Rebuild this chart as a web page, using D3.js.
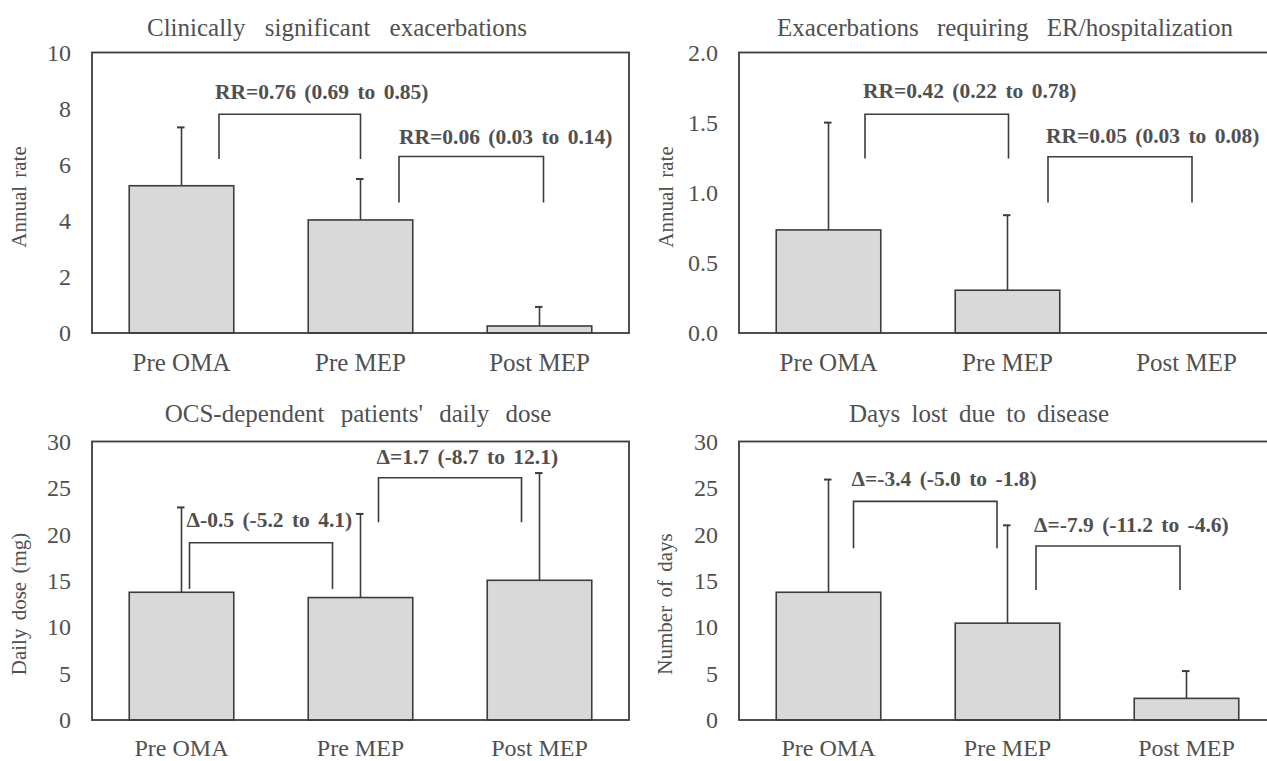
<!DOCTYPE html>
<html>
<head>
<meta charset="utf-8">
<script src="https://cdn.jsdelivr.net/npm/d3@7/dist/d3.min.js"></script>
<style>
  html, body { margin: 0; padding: 0; background: #fff; }
  svg { display: block; }
  text { font-family: "Liberation Serif", "Times New Roman", serif; }
</style>
</head>
<body>
<svg id="chart" width="1267" height="761"></svg>
<script>
// ---------------- DATA ----------------
const categories = ["Pre OMA", "Pre MEP", "Post MEP"];

const panelTitles = [
  "Clinically significant exacerbations",
  "Exacerbations requiring ER/hospitalization",
  "OCS-dependent patients' daily dose",
  "Days lost due to disease"
];
const yAxisTitles = ["Annual rate", "Annual rate", "Daily dose (mg)", "Number of days"];

// bar means
const meansClinical = [5.25, 4.03, 0.25];
const meansER       = [0.735, 0.305, 0];
const meansOCS      = [13.76, 13.19, 15.05];
const meansDays     = [13.76, 10.43, 2.33];

// upper end of error bars
const upperClinical = [7.33, 5.49, 0.93];
const upperER       = [1.50, 0.84, null];
const upperOCS      = [22.9, 22.2, 26.6];
const upperDays     = [25.9, 20.97, 5.27];

// tick labels
const ticksClinical = [0, 2, 4, 6, 8, 10];
const ticksER       = [0, 0.5, 1.0, 1.5, 2.0];
const ticksOCS      = [0, 5, 10, 15, 20, 25, 30];
const ticksDays     = [0, 5, 10, 15, 20, 25, 30];

// comparison labels
const labelsClinical = ["RR=0.76 (0.69 to 0.85)", "RR=0.06 (0.03 to 0.14)"];
const labelsER       = ["RR=0.42 (0.22 to 0.78)", "RR=0.05 (0.03 to 0.08)"];
const labelsOCS      = ["\u0394-0.5 (-5.2 to 4.1)", "\u0394=1.7 (-8.7 to 12.1)"];
const labelsDays     = ["\u0394=-3.4 (-5.0 to -1.8)", "\u0394=-7.9 (-11.2 to -4.6)"];

// bracket levels (data units): [top, leg end, label centre]
const levelsClinical = [[7.8, 6.2, 8.6], [6.29, 4.65, 7.0]];
const levelsER       = [[1.56, 1.245, 1.727], [1.257, 0.93, 1.405]];
const levelsOCS      = [[19.1, 14.1, 21.5], [26.1, 21.3, 28.3]];
const levelsDays     = [[23.55, 18.5, 26.0], [18.75, 14.0, 21.0]];

// ---------------- LAYOUT ----------------
const panels = [
  { means: meansClinical, upper: upperClinical, ticks: ticksClinical, fmt: d3.format("d"),
    labels: labelsClinical, levels: levelsClinical,
    box: { x0: 92, x1: 629, y0: 52.5, y1: 333 }, titleX: 337, titleY: 27, titleWS: 13,
    yTitleX: 19, yTitleY: 197, xLabelPad: 20, xLabelSize: 25,
    br: [{ dx0: 37.5, dx1: 0, lx: -4 }, { dx0: 38.5, dx1: 4, lx: 0 }] },
  { means: meansER, upper: upperER, ticks: ticksER, fmt: d3.format(".1f"),
    labels: labelsER, levels: levelsER,
    box: { x0: 739, x1: 1276, y0: 52.5, y1: 333 }, titleX: 1005, titleY: 27, titleWS: 12,
    yTitleX: 666, yTitleY: 197, xLabelPad: 20, xLabelSize: 25,
    br: [{ dx0: 36.5, dx1: 1, lx: -2 }, { dx0: 40.5, dx1: 5.5, lx: -2 }] },
  { means: meansOCS, upper: upperOCS, ticks: ticksOCS, fmt: d3.format("d"),
    labels: labelsOCS, levels: levelsOCS,
    box: { x0: 92, x1: 629, y0: 441.5, y1: 720 }, titleX: 358, titleY: 413, titleWS: 10,
    yTitleX: 19, yTitleY: 604, xLabelPad: 19, xLabelSize: 24,
    br: [{ dx0: 8, dx1: -28, lx: -3 }, { dx0: 18, dx1: -18, lx: -2 }] },
  { means: meansDays, upper: upperDays, ticks: ticksDays, fmt: d3.format("d"),
    labels: labelsDays, levels: levelsDays,
    box: { x0: 739, x1: 1276, y0: 441.5, y1: 720 }, titleX: 979, titleY: 413, titleWS: 5,
    yTitleX: 665, yTitleY: 604, xLabelPad: 19, xLabelSize: 24,
    br: [{ dx0: 25, dx1: -10.5, lx: -2 }, { dx0: 28.5, dx1: -6.5, lx: -2 }] }
];

const TEXT = "#505050";
const LINE = "#3c3c3c";
const BAR_FILL = "#d9d9d9";

const svg = d3.select("#chart");
svg.append("rect").attr("width", 1267).attr("height", 761).attr("fill", "#fff");

panels.forEach((p, pi) => {
  const b = p.box;
  const g = svg.append("g");

  const x = d3.scaleBand().domain(categories).range([b.x0, b.x1])
    .paddingInner(0.416).paddingOuter(0.208);
  const yMax = p.ticks[p.ticks.length - 1];
  const y = d3.scaleLinear().domain([0, yMax]).range([b.y1, b.y0]);

  // title
  g.append("text")
    .attr("x", p.titleX).attr("y", p.titleY)
    .attr("text-anchor", "middle").attr("dominant-baseline", "central")
    .attr("font-size", 25).attr("fill", TEXT)
    .style("word-spacing", p.titleWS + "px")
    .text(panelTitles[pi]);

  // y axis title
  g.append("text")
    .attr("transform", `translate(${p.yTitleX},${p.yTitleY}) rotate(-90)`)
    .attr("text-anchor", "middle").attr("dominant-baseline", "central")
    .attr("font-size", 21).attr("fill", TEXT)
    .style("word-spacing", "3px")
    .text(yAxisTitles[pi]);

  // y axis (labels only)
  const yAxis = g.append("g").attr("transform", `translate(${b.x0},0)`)
    .call(d3.axisLeft(y).tickValues(p.ticks).tickSize(0).tickPadding(21).tickFormat(p.fmt));
  yAxis.select(".domain").remove();
  yAxis.selectAll("text").attr("font-size", 24).attr("fill", TEXT)
    .attr("font-family", "Liberation Serif, serif");

  // x axis labels
  const xAxis = g.append("g").attr("transform", `translate(0,${b.y1})`)
    .call(d3.axisBottom(x).tickSize(0).tickPadding(p.xLabelPad));
  xAxis.select(".domain").remove();
  xAxis.selectAll("text").attr("font-size", p.xLabelSize).attr("fill", TEXT)
    .attr("font-family", "Liberation Serif, serif");

  // error bars
  categories.forEach((c, i) => {
    if (p.upper[i] == null) return;
    const cx = x(c) + x.bandwidth() / 2;
    g.append("line").attr("x1", cx).attr("x2", cx)
      .attr("y1", y(p.means[i])).attr("y2", y(p.upper[i]))
      .attr("stroke", LINE).attr("stroke-width", 1.6);
    g.append("line").attr("x1", cx - 4.5).attr("x2", cx + 3)
      .attr("y1", y(p.upper[i])).attr("y2", y(p.upper[i]))
      .attr("stroke", LINE).attr("stroke-width", 2);
  });

  // bars
  g.selectAll("rect.bar").data(categories.map((c, i) => ({ c, v: p.means[i] })).filter(d => d.v > 0))
    .join("rect").attr("class", "bar")
    .attr("x", d => x(d.c)).attr("width", x.bandwidth())
    .attr("y", d => y(d.v)).attr("height", d => y(0) - y(d.v))
    .attr("fill", BAR_FILL).attr("stroke", LINE).attr("stroke-width", 1.6);

  // plot frame
  g.append("rect").attr("x", b.x0).attr("y", b.y0)
    .attr("width", b.x1 - b.x0).attr("height", b.y1 - b.y0)
    .attr("fill", "none").attr("stroke", LINE).attr("stroke-width", 1.8);

  // brackets + labels
  p.br.forEach((br, k) => {
    const xa = x(categories[k]) + x.bandwidth() / 2 + br.dx0;
    const xb = x(categories[k + 1]) + x.bandwidth() / 2 + br.dx1;
    const [top, leg, ly] = p.levels[k];
    g.append("path")
      .attr("d", `M${xa},${y(leg)}V${y(top)}H${xb}V${y(leg)}`)
      .attr("fill", "none").attr("stroke", LINE).attr("stroke-width", 1.6);
    g.append("text")
      .attr("x", xa + br.lx).attr("y", y(ly))
      .attr("dominant-baseline", "central")
      .attr("font-size", 21.5).attr("font-weight", "bold").attr("fill", TEXT)
      .style("word-spacing", "3px")
      .text(p.labels[k]);
  });
});
</script>
</body>
</html>
